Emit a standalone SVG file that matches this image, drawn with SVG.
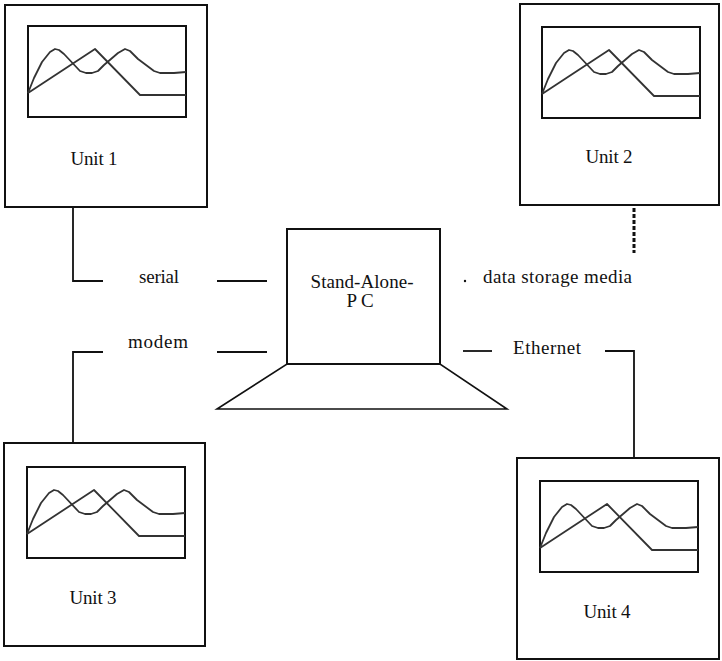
<svg xmlns="http://www.w3.org/2000/svg" width="722" height="661" viewBox="0 0 722 661">
<style>
.box{fill:#fff;stroke:#111;stroke-width:2}
.chart{fill:none;stroke:#111;stroke-width:2}
.curve{fill:none;stroke:#333;stroke-width:1.8;stroke-linejoin:round}
.conn{fill:none;stroke:#111;stroke-width:1.8}
.lbl{font-family:"Liberation Serif","Times New Roman",serif;font-size:19px;fill:#111}
</style>
<defs>
<g id="graph">
<rect class="chart" x="0" y="0" width="158" height="91"/>
<polyline class="curve" points="0,67 6,52 14,36 22,26 27,23 31,24 36,28 52,45 58,47 64,47 70,45 76,39 90,27 97,23 102,25 110,33 126,45 132,47 146,47 158,46"/>
<polyline class="curve" points="0,67 67,23 112,69 158,69"/>
</g>
</defs>
<rect width="722" height="661" fill="#fff"/>
<g id="connectors">
<polyline class="conn" points="73,207 73,281 103,281"/>
<line class="conn" x1="217" y1="281" x2="267" y2="281"/>
<polyline class="conn" points="73,443 73,352 103,352"/>
<line class="conn" x1="217" y1="352" x2="267" y2="352"/>
<line class="conn" x1="463" y1="351" x2="492" y2="351"/>
<polyline class="conn" points="605,351 634,351 634,458"/>
<line x1="634" y1="208" x2="634" y2="253" stroke="#111" stroke-width="3" stroke-dasharray="4,2"/>
<circle cx="465" cy="281" r="1.2" fill="#111"/>
<text class="lbl" x="159" y="283" text-anchor="middle" textLength="40">serial</text>
<text class="lbl" x="158" y="348" text-anchor="middle" textLength="60">modem</text>
<text class="lbl" x="483" y="283" textLength="149">data storage media</text>
<text class="lbl" x="513" y="354" textLength="68">Ethernet</text>
</g>
<g id="unit1">
<rect class="box" x="5" y="5" width="202" height="202"/>
<use href="#graph" x="28" y="26"/>
<text class="lbl" x="94" y="165" text-anchor="middle" textLength="47">Unit 1</text>
</g>
<g id="unit2">
<rect class="box" x="520" y="4" width="199" height="201"/>
<use href="#graph" x="542" y="27"/>
<text class="lbl" x="609" y="163" text-anchor="middle" textLength="47">Unit 2</text>
</g>
<g id="unit3">
<rect class="box" x="4" y="443" width="201" height="203"/>
<use href="#graph" x="27" y="467"/>
<text class="lbl" x="93" y="604" text-anchor="middle" textLength="47">Unit 3</text>
</g>
<g id="unit4">
<rect class="box" x="517" y="458" width="202" height="201"/>
<use href="#graph" x="540" y="481"/>
<text class="lbl" x="607" y="618" text-anchor="middle" textLength="47">Unit 4</text>
</g>
<g id="pc">
<polygon class="box" points="287,364 440,364 507,409 217,409" style="stroke-width:1.6"/>
<rect class="box" x="287" y="229" width="153" height="135"/>
<text class="lbl" x="362" y="288" text-anchor="middle" textLength="103">Stand-Alone-</text>
<text class="lbl" x="362" y="307" text-anchor="middle" letter-spacing="4">PC</text>
</g>
</svg>
